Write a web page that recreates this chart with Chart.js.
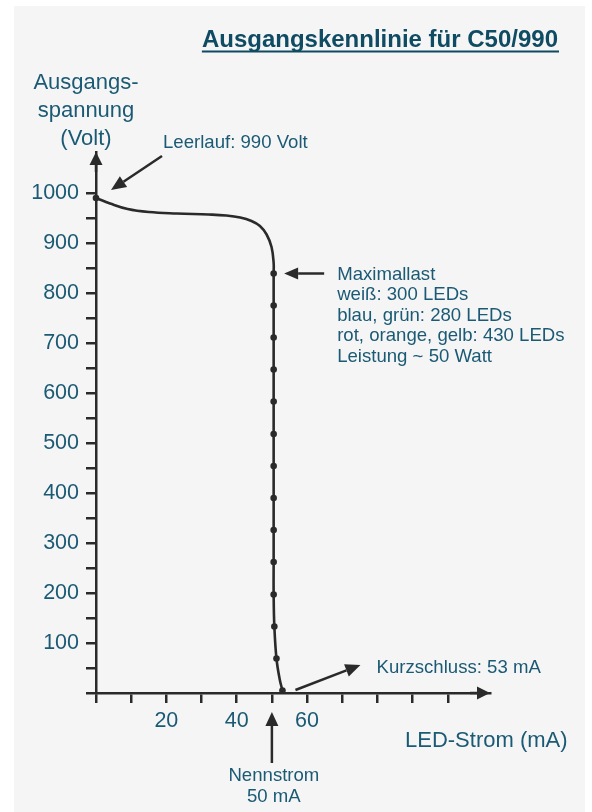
<!DOCTYPE html>
<html>
<head>
<meta charset="utf-8">
<title>Ausgangskennlinie C50/990</title>
<script src="https://cdn.jsdelivr.net/npm/chart.js@4.4.1/dist/chart.umd.min.js"></script>
<style>
  html, body { margin: 0; padding: 0; background: #ffffff; }
  canvas { display: block; }
</style>
</head>
<body>
<canvas id="kennlinie" width="592" height="812"></canvas>
<script>
// Output characteristic of the C50/990 driver

// smooth curve: LED current (mA) and output voltage (V)
const curveCurrent = [0, 4, 9, 15, 23, 32, 37, 41, 44.2, 46.6, 48.5, 49.9, 50.5,
    50.5, 50.5, 50.5, 50.5, 50.5, 50.5, 50.5, 50.5, 50.5, 50.5, 50.5, 50.7, 51.3, 52.2, 53];
const curveVoltage = [990, 979, 968, 962, 959, 957, 955, 951, 944, 934, 917, 892, 860,
    839, 775, 711, 647, 583, 518, 454, 390, 326, 262, 197, 133, 69, 28, 5];

// measured points marked with dots
const markerCurrent = [0, 50.5, 50.5, 50.5, 50.5, 50.5, 50.5, 50.5, 50.5, 50.5, 50.5, 50.5, 50.7, 51.3, 53];
const markerVoltage = [990, 839, 775, 711, 647, 583, 518, 454, 390, 326, 262, 197, 133, 69, 5];

// axes
const xTickValues = [0, 10, 20, 30, 40, 50, 60, 70, 80, 90, 100];
const xTickLabels = [20, 40, 60];
const yTickValues = [0, 50, 100, 150, 200, 250, 300, 350, 400, 450, 500, 550,
    600, 650, 700, 750, 800, 850, 900, 950, 1000];
const yTickLabels = [100, 200, 300, 400, 500, 600, 700, 800, 900, 1000];

const yTitleLines = ['Ausgangs-', 'spannung', '(Volt)'];
const maxLoadLines = ['Maximallast', 'weiß: 300 LEDs', 'blau, grün: 280 LEDs',
    'rot, orange, gelb: 430 LEDs', 'Leistung ~ 50 Watt'];

const ink = '#2a2a2a';
const teal = '#1b5a74';
const titleColor = '#0f4b63';
const family = '"Liberation Sans", Arial, Helvetica, sans-serif';
const font = (size, weight) => `${weight || 'normal'} ${size}px ${family}`;

function arrow(ctx, x1, y1, x2, y2, len, half) {
    const a = Math.atan2(y2 - y1, x2 - x1);
    const bx = x2 - len * Math.cos(a);
    const by = y2 - len * Math.sin(a);
    ctx.beginPath();
    ctx.moveTo(x1, y1);
    ctx.lineTo(bx, by);
    ctx.stroke();
    ctx.beginPath();
    ctx.moveTo(x2, y2);
    ctx.lineTo(bx + half * Math.sin(a), by - half * Math.cos(a));
    ctx.lineTo(bx - half * Math.sin(a), by + half * Math.cos(a));
    ctx.closePath();
    ctx.fill();
}

const sheetPlugin = {
    id: 'sheet',
    beforeDraw(chart) {
        const ctx = chart.ctx;
        ctx.save();
        ctx.fillStyle = '#ffffff';
        ctx.fillRect(0, 0, chart.width, chart.height);
        ctx.fillStyle = '#f5f5f5';
        ctx.fillRect(14, 6, 571, chart.height - 6);
        ctx.restore();
    },
    afterDraw(chart) {
        const ctx = chart.ctx;
        const area = chart.chartArea;
        const xs = chart.scales.x;
        const ys = chart.scales.y;
        const px = v => xs.getPixelForValue(v);
        const py = v => ys.getPixelForValue(v);

        ctx.save();
        ctx.strokeStyle = ink;
        ctx.fillStyle = ink;
        ctx.lineWidth = 2.5;

        // axis arrow heads
        arrow(ctx, area.right - 20, area.bottom, area.right, area.bottom, 13, 6.5);
        arrow(ctx, area.left, area.top + 20, area.left, area.top, 13, 6.5);

        // Leerlauf
        const p0x = px(markerCurrent[0]), p0y = py(markerVoltage[0]);
        arrow(ctx, p0x + 66, p0y - 42, p0x + 15, p0y - 8, 15, 6.5);
        // Maximallast
        const pmx = px(markerCurrent[1]), pmy = py(markerVoltage[1]);
        arrow(ctx, pmx + 50.5, pmy, pmx + 10.5, pmy, 14, 6);
        // Kurzschluss
        const last = markerCurrent.length - 1;
        const pkx = px(markerCurrent[last]), pky = py(markerVoltage[last]);
        arrow(ctx, pkx + 13, pky - 0.5, pkx + 78, pky - 25.5, 15, 6.5);
        // Nennstrom
        const pnx = px(50);
        arrow(ctx, pnx, area.bottom + 70, pnx, area.bottom + 19, 14, 6.5);

        // texts
        ctx.fillStyle = titleColor;
        ctx.font = font(24, 'bold');
        ctx.textAlign = 'right';
        ctx.textBaseline = 'alphabetic';
        const title = 'Ausgangskennlinie für C50/990';
        ctx.fillText(title, 558, 47);
        const tw = ctx.measureText(title).width;
        ctx.fillRect(558 - tw, 50.5, tw + 1, 2);

        ctx.fillStyle = teal;
        ctx.font = font(22);
        ctx.textAlign = 'center';
        yTitleLines.forEach((line, i) => ctx.fillText(line, 86, 89 + i * 28));

        ctx.textAlign = 'left';
        ctx.textBaseline = 'middle';
        ctx.font = font(22);
        ctx.fillText('LED-Strom (mA)', 405, 741);

        ctx.font = font(18.6);
        ctx.textBaseline = 'alphabetic';
        ctx.fillText('Leerlauf: 990 Volt', 163, 148);
        maxLoadLines.forEach((line, i) => ctx.fillText(line, pmx + 63.5, 279.5 + i * 20.5));
        ctx.textBaseline = 'middle';
        ctx.fillText('Kurzschluss: 53 mA', 376.5, 667.5);
        ctx.textAlign = 'center';
        ctx.fillText('Nennstrom', pnx + 2, 776);
        ctx.fillText('50 mA', pnx + 2, 797);
        ctx.restore();
    }
};

const axisGrid = {
    display: true,
    drawOnChartArea: false,
    drawTicks: true,
    tickLength: 10,
    color: ink,
    lineWidth: 2.5
};

new Chart(document.getElementById('kennlinie').getContext('2d'), {
    type: 'scatter',
    data: {
        datasets: [{
            label: 'Kennlinie',
            data: curveCurrent.map((c, i) => ({ x: c, y: curveVoltage[i] })),
            showLine: true,
            borderColor: ink,
            borderWidth: 2.6,
            pointRadius: 0,
            tension: 0.4,
            fill: false,
            clip: false
        }, {
            label: 'Messpunkte',
            data: markerCurrent.map((c, i) => ({ x: c, y: markerVoltage[i] })),
            showLine: false,
            pointRadius: 3.3,
            pointBackgroundColor: ink,
            pointBorderWidth: 0,
            clip: false
        }]
    },
    options: {
        responsive: false,
        animation: false,
        devicePixelRatio: 1,
        layout: { padding: { top: 152, right: 102, left: 0, bottom: 0 } },
        plugins: {
            legend: { display: false },
            tooltip: { enabled: false },
            title: { display: false }
        },
        scales: {
            x: {
                type: 'linear',
                min: 0,
                max: 112,
                grid: axisGrid,
                border: { display: true, color: ink, width: 2.5 },
                afterBuildTicks: scale => { scale.ticks = xTickValues.map(v => ({ value: v })); },
                afterFit: scale => { scale.height = 119; },
                ticks: {
                    padding: 5,
                    color: teal,
                    font: { family: family, size: 21.5 },
                    maxRotation: 0,
                    autoSkip: false,
                    callback: v => xTickLabels.includes(v) ? String(v) : ''
                }
            },
            y: {
                type: 'linear',
                min: 0,
                max: 1082,
                grid: axisGrid,
                border: { display: true, color: ink, width: 2.5 },
                afterBuildTicks: scale => { scale.ticks = yTickValues.map(v => ({ value: v })); },
                afterFit: scale => { scale.width = 96; },
                ticks: {
                    padding: 7,
                    color: teal,
                    font: { family: family, size: 21.5 },
                    autoSkip: false,
                    callback: v => yTickLabels.includes(v) ? String(v) : ''
                }
            }
        }
    },
    plugins: [sheetPlugin]
});
</script>
</body>
</html>
